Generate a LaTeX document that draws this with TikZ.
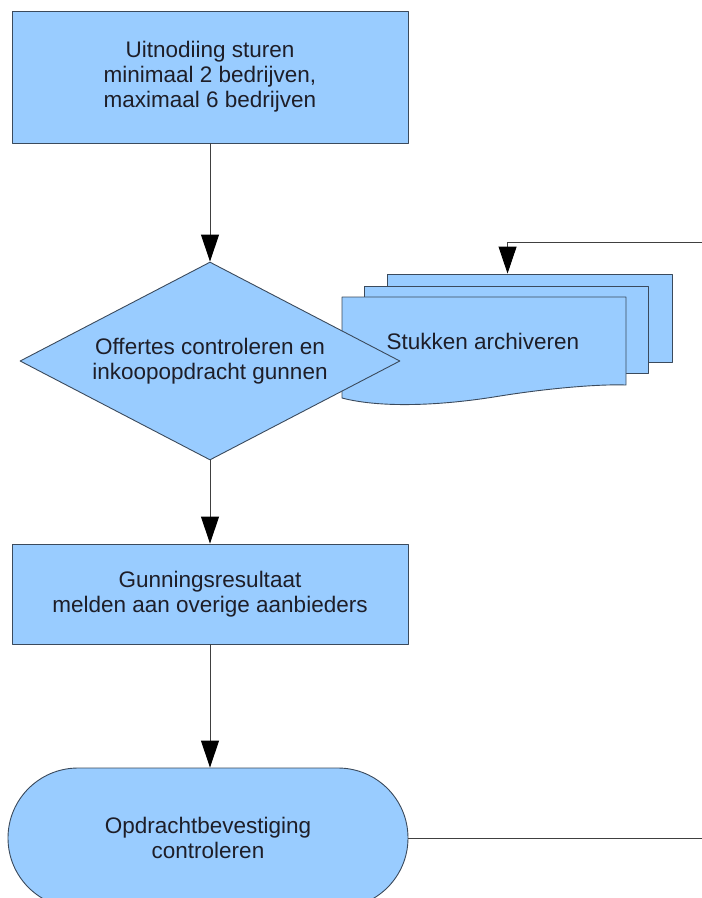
\documentclass[tikz,border=0pt]{standalone}
\usepackage{fontspec}
\setmainfont{Liberation Sans}
\usetikzlibrary{arrows.meta,shapes.geometric,shapes.misc}
\definecolor{vulblauw}{HTML}{99CCFF}
\definecolor{randlijn}{HTML}{3B4A5C}
\definecolor{tekstkleur}{HTML}{1E1E28}

\begin{document}
\begin{tikzpicture}[x=1pt,y=-1pt, line join=round,
  font=\fontsize{22.5}{25}\selectfont, text=tekstkleur,
  >={Triangle[length=27pt,width=18pt,color=black]},
  stap/.style={draw=randlijn, fill=vulblauw, line width=0.9pt, align=center, inner sep=0pt},
  lijn/.style={draw=black!75, line width=0.9pt},
  pijl/.style={lijn, ->}]
  \useasboundingbox (0,0) rectangle (702,898);
  \clip (0,0) rectangle (702,898);
  % stapel documenten
  \node[stap, minimum width=285pt, minimum height=88pt] (archief3) at (529.5,318) {};
  \node[stap, minimum width=284pt, minimum height=87pt] (archief2) at (506,329.5) {};
  \draw[stap] (342,297) -- (626,297) -- (626,385)
    .. controls (600,384) and (550,388) .. (500,396)
    .. controls (440,406) and (380,408) .. (342,398) -- cycle;
  \node (archief) at (483,341) {Stukken archiveren};
  % processtappen
  \node[stap, minimum width=396pt, minimum height=132pt] (uitnodiging) at (210,77)
    {Uitnodiing sturen\\minimaal 2 bedrijven,\\ maximaal 6 bedrijven};
  \node[stap, diamond, aspect=1.92, minimum width=380pt, minimum height=198pt] (offertes) at (210,361)
    {Offertes controleren en\\inkoopopdracht gunnen};
  \node[stap, minimum width=396pt, minimum height=100pt] (gunning) at (210,594)
    {Gunningsresultaat\\melden aan overige aanbieders};
  \node[stap, rounded rectangle, minimum width=400pt, minimum height=140pt] (bevestiging) at (208,838)
    {Opdrachtbevestiging\\controleren};
  \coordinate (retour) at (702,242);
  \coordinate (uitgang) at (702,838);
  % verbindingen
  \draw[pijl] (uitnodiging.south) -- (offertes.north);
  \draw[pijl] (offertes.south) -- (gunning.north);
  \draw[pijl] (gunning.south) -- (gunning.south |- bevestiging.north);
  \draw[pijl] (retour) -| ([xshift=121pt]archief3.north west);
  \draw[lijn] (uitgang -| bevestiging.east) -- (uitgang);
\end{tikzpicture}
\end{document}
